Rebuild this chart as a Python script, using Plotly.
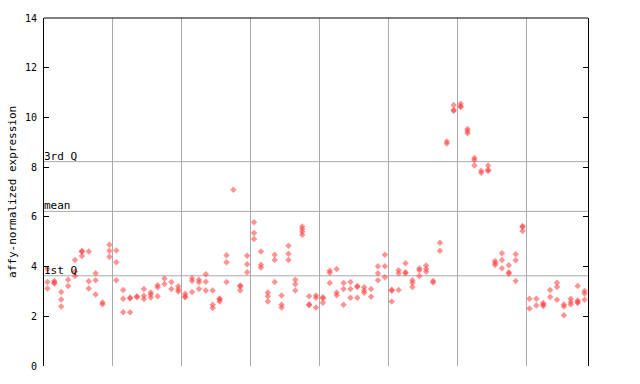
import plotly.graph_objects as go

# expression values per sample (replicates)
samples = [
    [3.90, 3.38, 3.12], [3.42, 3.36, 3.32], [2.98, 2.68, 2.39], [3.47, 3.22],
    [4.26, 3.80, 3.62], [4.63, 4.60, 4.43], [4.61, 3.41, 3.12], [3.73, 3.45, 2.88],
    [2.55, 2.48], [4.88, 4.64, 4.40], [4.65, 4.17, 3.45], [3.06, 2.71, 2.16],
    [2.76, 2.72, 2.16], [2.81, 2.77], [3.10, 2.83, 2.70], [2.96, 2.88, 2.76],
    [3.25, 3.17, 2.81], [3.52, 3.30], [3.38, 3.10], [3.21, 3.09, 3.00],
    [2.91, 2.81, 2.77], [3.53, 3.42, 2.98], [3.47, 3.37, 3.10], [3.69, 3.39, 3.04],
    [3.04, 2.46, 2.33], [2.72, 2.68, 2.59], [4.46, 4.17, 3.38], [7.09],
    [3.24, 3.20, 3.04], [4.44, 4.09, 3.77], [5.78, 5.35, 5.11], [4.61, 4.07, 3.96],
    [2.96, 2.81, 2.59], [4.48, 4.26, 3.38], [2.84, 2.46, 2.35], [4.84, 4.52, 4.26],
    [3.47, 3.29, 3.04], [5.61, 5.51, 5.40, 5.28], [2.81, 2.48, 2.44], [2.84, 2.75, 2.35],
    [2.77, 2.73, 2.54], [3.83, 3.75, 3.34], [3.90, 2.96, 2.85], [3.34, 3.10, 2.46],
    [3.38, 3.10, 2.75], [3.22, 3.18, 2.75], [3.17, 3.04, 2.95], [3.10, 2.79],
    [4.01, 3.73, 3.45], [4.48, 4.01, 3.57], [3.07, 3.03, 2.59], [3.85, 3.73, 3.06],
    [4.13, 3.77, 3.73], [3.45, 3.35, 3.18], [3.92, 3.85, 3.62], [4.04, 3.90, 3.79],
    [3.42, 3.36], [4.96, 4.64], [9.03, 8.95], [10.50, 10.30, 10.27],
    [10.55, 10.45, 10.42], [9.53, 9.45, 9.36], [8.37, 8.29, 8.07], [7.85, 7.77],
    [8.07, 7.90, 7.84], [4.22, 4.14, 4.06], [4.54, 4.26, 3.93], [4.05, 3.77, 3.71],
    [4.50, 4.25, 3.42], [5.63, 5.59, 5.43], [2.71, 2.31], [2.71, 2.43],
    [2.53, 2.47, 2.41], [3.06, 2.78], [3.35, 3.18, 2.67], [2.47, 2.39, 2.04],
    [2.71, 2.57, 2.47], [3.22, 2.64, 2.57, 2.53], [3.02, 2.92, 2.67],
]
group_bounds = [9.5, 19.5, 29.5, 39.5, 49.5, 59.5, 69.5]
ref_lines = {"3rd Q": 8.22, "mean": 6.22, "1st Q": 3.63}
y_ticks = [0, 2, 4, 6, 8, 10, 12, 14]

xs, ys = [], []
for i, vals in enumerate(samples):
    for v in vals:
        xs.append(i)
        ys.append(v)

FONT = "DejaVu Sans Mono"
GRID = "#aaaaaa"

fig = go.Figure()
fig.add_trace(go.Scatter(
    x=xs, y=ys, mode="markers",
    marker=dict(symbol="diamond", size=5, color="rgba(255,60,60,0.55)", line=dict(width=0)),
    hoverinfo="y", showlegend=False,
))

shapes = []
for name, v in ref_lines.items():
    shapes.append(dict(type="line", xref="paper", x0=0, x1=1, yref="y", y0=v, y1=v,
                       line=dict(color=GRID, width=1), layer="below"))
# top border
shapes.append(dict(type="line", xref="paper", x0=0, x1=1, yref="paper", y0=1, y1=1,
                   line=dict(color="black", width=1)))

annotations = []
for name, v in ref_lines.items():
    annotations.append(dict(text=name, x=0, xref="paper", xanchor="left", y=v, yref="y",
                            yanchor="bottom", showarrow=False, xshift=-2, yshift=-3,
                            font=dict(family=FONT, size=11, color="black")))
annotations.append(dict(text="affy-normalized expression", textangle=-90,
                        x=(12 - 44) / 543.5, xref="paper", xanchor="center",
                        y=0.5, yref="paper", yanchor="middle", showarrow=False,
                        font=dict(family=FONT, size=11, color="black")))

fig.update_layout(
    width=640, height=384,
    margin=dict(l=44, r=52, t=14, b=15),
    paper_bgcolor="white", plot_bgcolor="white",
    shapes=shapes, annotations=annotations,
    xaxis=dict(range=[-0.5, 78.5], tickvals=group_bounds, showticklabels=False,
               ticks="", showgrid=True, gridcolor=GRID, gridwidth=1, zeroline=False,
               showline=False, fixedrange=True),
    yaxis=dict(range=[0, 14], tickvals=y_ticks, ticks="inside", ticklen=5,
               tickcolor="black", showline=True, linecolor="black", linewidth=1,
               mirror="ticks", showgrid=False, zeroline=False,
               tickfont=dict(family=FONT, size=10, color="black"),
               ticklabelstandoff=4),
)

fig.write_html("out.html")
